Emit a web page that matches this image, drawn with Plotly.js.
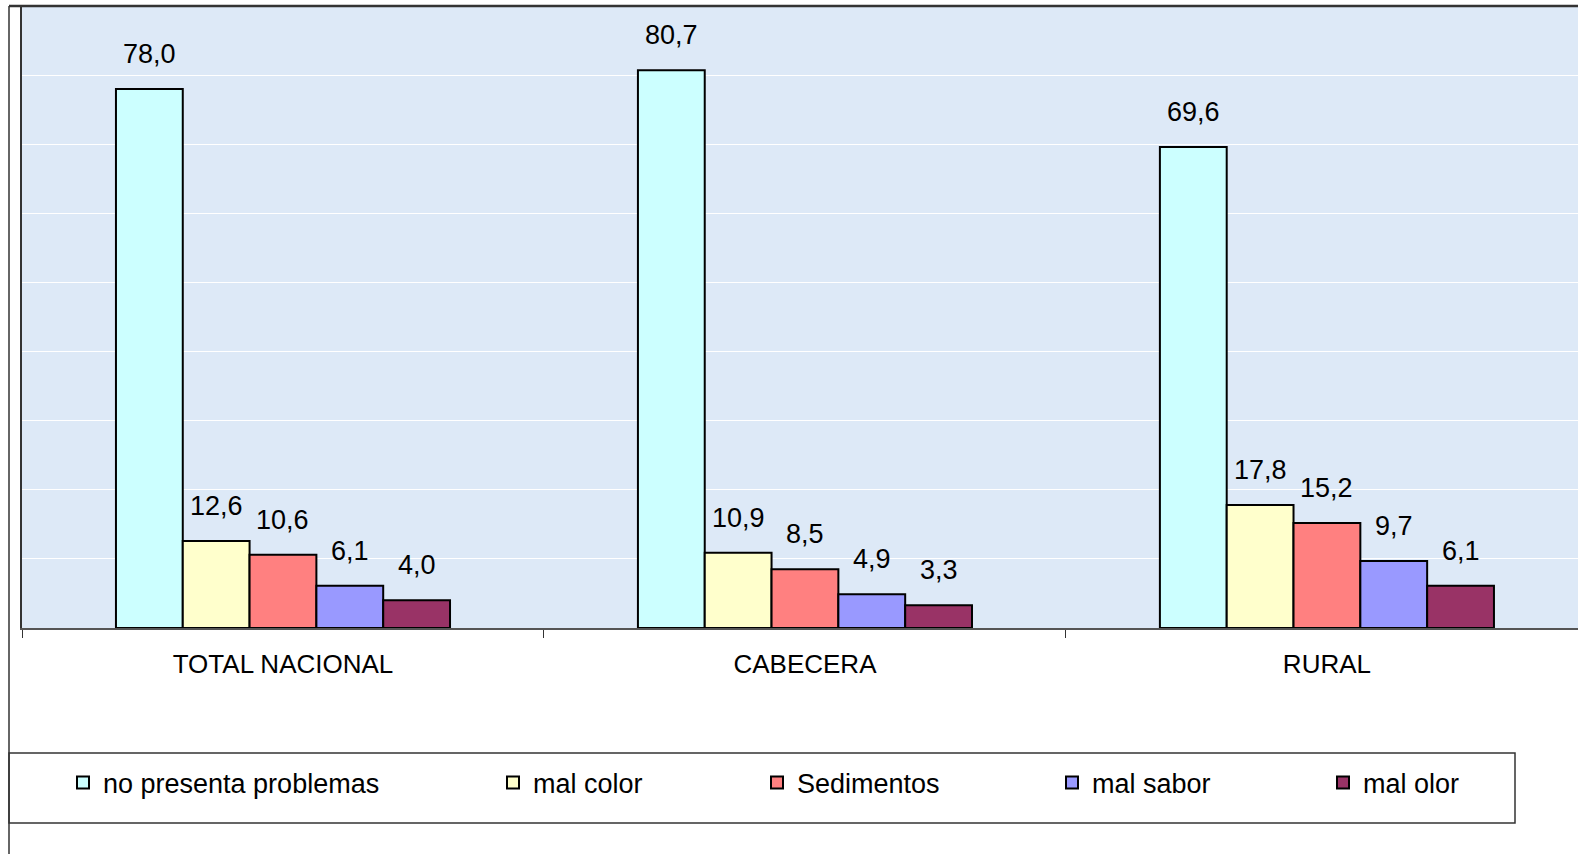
<!DOCTYPE html>
<html>
<head>
<meta charset="utf-8">
<script src="https://cdn.plot.ly/plotly-3.0.1.min.js"></script>
<style>
  html, body { margin: 0; padding: 0; background: #ffffff; }
  #chart { width: 1578px; height: 854px; }
</style>
</head>
<body>
<div id="chart"></div>
<script>
// ---- Data ----
const categories = ['TOTAL NACIONAL', 'CABECERA', 'RURAL'];
const seriesNames = ['no presenta problemas', 'mal color', 'Sedimentos', 'mal sabor', 'mal olor'];
const noPresentaProblemas = [78.0, 80.7, 69.6];
const malColor = [12.6, 10.9, 17.8];
const sedimentos = [10.6, 8.5, 15.2];
const malSabor = [6.1, 4.9, 9.7];
const malOlor = [4.0, 3.3, 6.1];
const seriesValues = [noPresentaProblemas, malColor, sedimentos, malSabor, malOlor];
const seriesColors = ['#CCFFFF', '#FFFFCC', '#FF8080', '#9999FF', '#993366'];

// ---- Layout geometry ----
const W = 1578, H = 854;
const mL = 22, mR = 0, mT = 6, mB = 226;
const plotW = W - mL - mR, plotH = H - mT - mB;
const xRange = [-0.5, 2.481];
const bargap = 0.36;
const FONT = 'Liberation Sans, Arial, sans-serif';

function px2paperX(px) { return (px - mL) / plotW; }
function px2paperY(py) { return (H - mB - py) / plotH; }

const legendCenters = [83, 513, 777, 1072, 1343];

const traces = seriesNames.map((name, i) => ({
  type: 'bar',
  name: name,
  x: categories,
  y: seriesValues[i],
  marker: { color: seriesColors[i], line: { color: '#000000', width: 2 } },
  legend: i === 0 ? 'legend' : 'legend' + (i + 1),
  hoverinfo: 'x+y+name'
}));

// data labels
const catPx = plotW / (xRange[1] - xRange[0]);
const barPx = catPx * (1 - bargap) / seriesNames.length;
const annotations = [];
seriesValues.forEach((vals, i) => {
  vals.forEach((v, j) => {
    annotations.push({
      x: categories[j], y: v, xref: 'x', yref: 'y',
      xshift: (i - (seriesNames.length - 1) / 2) * barPx,
      yshift: 18,
      yanchor: 'bottom', xanchor: 'center',
      showarrow: false,
      text: v.toFixed(1).replace('.', ','),
      font: { family: FONT, size: 27, color: '#000000' }
    });
  });
});

const layout = {
  width: W, height: H,
  margin: { l: mL, r: mR, t: mT, b: mB, pad: 0 },
  paper_bgcolor: '#ffffff',
  plot_bgcolor: '#dde9f7',
  barmode: 'group',
  bargap: bargap,
  bargroupgap: 0,
  separators: ',.',
  font: { family: FONT, size: 26, color: '#000000' },
  xaxis: {
    type: 'category',
    range: xRange,
    tickson: 'boundaries',
    ticks: 'outside',
    ticklen: 8,
    tickwidth: 1,
    tickcolor: '#333333',
    ticklabelstandoff: 12,
    showline: true,
    linecolor: '#555555',
    linewidth: 2,
    showgrid: false,
    zeroline: false,
    tickfont: { family: FONT, size: 26, color: '#000000' },
    fixedrange: true
  },
  yaxis: {
    range: [0, 90],
    dtick: 10,
    showgrid: true,
    gridcolor: '#ffffff',
    gridwidth: 1,
    showticklabels: false,
    ticks: '',
    showline: true,
    linecolor: '#333333',
    linewidth: 2,
    zeroline: false,
    fixedrange: true
  },
  annotations: annotations,
  shapes: [
    // outer chart border (left and top)
    { type: 'line', xref: 'paper', yref: 'paper', x0: px2paperX(9), x1: px2paperX(9), y0: px2paperY(6), y1: px2paperY(854), line: { color: '#333333', width: 1.5 } },
    { type: 'line', xref: 'paper', yref: 'paper', x0: px2paperX(9), x1: 1, y0: px2paperY(6), y1: px2paperY(6), line: { color: '#333333', width: 2.5 } },
    // legend box
    { type: 'rect', xref: 'paper', yref: 'paper', x0: px2paperX(9), x1: px2paperX(1515), y0: px2paperY(753), y1: px2paperY(823), line: { color: '#333333', width: 1.5 }, fillcolor: 'rgba(0,0,0,0)' }
  ],
  showlegend: true
};

seriesNames.forEach((n, i) => {
  const key = i === 0 ? 'legend' : 'legend' + (i + 1);
  layout[key] = {
    xref: 'container', yref: 'container',
    x: (legendCenters[i] - 20) / W,
    y: (H - 783) / H,
    xanchor: 'left', yanchor: 'middle',
    orientation: 'h',
    bgcolor: 'rgba(0,0,0,0)',
    borderwidth: 0,
    itemwidth: 30,
    font: { family: FONT, size: 27, color: '#000000' }
  };
});

Plotly.newPlot('chart', traces, layout, { displayModeBar: false, staticPlot: true });
</script>
</body>
</html>
